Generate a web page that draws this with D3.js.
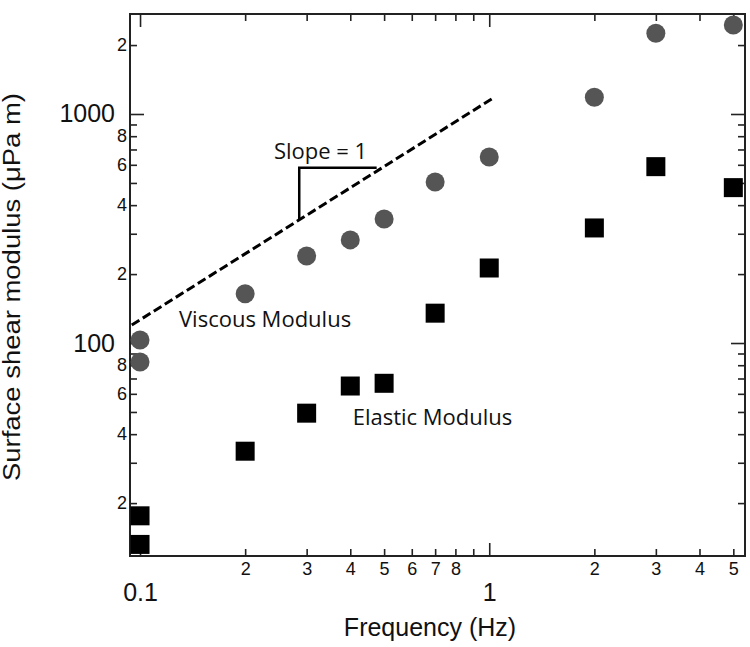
<!DOCTYPE html>
<html>
<head>
<meta charset="utf-8">
<script src="https://cdn.jsdelivr.net/npm/d3@7"></script>
<style>
  html, body { margin: 0; padding: 0; background: #fff; }
  svg { display: block; }
</style>
</head>
<body>
<svg id="chart" width="750" height="647"></svg>
<script>
// ---- data ----
const freqs   = [0.1, 0.1, 0.2, 0.3, 0.4, 0.5, 0.7, 1, 2, 3, 5];
const viscous = [103, 82.6, 164, 240, 282, 348, 505, 649, 1183, 2251, 2447];
const elastic = [17.6, 13.2, 33.7, 49.4, 64.9, 66.7, 135, 212.6, 318, 589, 477];

// slope guide line and triangle
const slopeLineX = [0.0947, 1.023];
const slopeLineY = [119.8, 1171];
const triX = [0.2857, 0.2857, 0.476];
const triY = [345, 583, 583];

// tick values and labels
const xMajorTicks = [0.1, 1];
const xMajorLabels = ["0.1", "1"];
const xMinorTicks = [0.2, 0.3, 0.4, 0.5, 0.6, 0.7, 0.8, 0.9, 2, 3, 4, 5];
const xMinorLabels = ["2", "3", "4", "5", "6", "7", "8", "", "2", "3", "4", "5"];
const yMajorTicks = [100, 1000];
const yMajorLabels = ["100", "1000"];
const yMinorTicks = [20, 30, 40, 50, 60, 70, 80, 90, 200, 300, 400, 500, 600, 700, 800, 900, 2000];
const yMinorLabels = ["2", "", "4", "", "6", "", "8", "", "2", "", "4", "", "6", "", "8", "", "2"];

// annotations (data coordinates of text start / baseline)
const annotations = [
  { text: "Slope = 1", x: 0.2418, y: 636 },
  { text: "Viscous Modulus", x: 0.1293, y: 117.8 },
  { text: "Elastic Modulus", x: 0.4064, y: 43.9 }
];

// ---- layout ----
const plotLeft = 130, plotRight = 745, plotTop = 14, plotBottom = 556;
const svg = d3.select("#chart");

const x = d3.scaleLog().domain([0.0936, 5.40]).range([plotLeft, plotRight]);
const y = d3.scaleLog().domain([11.75, 2733]).range([plotBottom, plotTop]);

const axisColor = "#222";
const fontAxis = "Liberation Sans, Arial, sans-serif";

function styleAxis(g) {
  g.select(".domain").remove();
  g.selectAll(".tick line").attr("stroke", axisColor).attr("stroke-width", 1.6);
  g.selectAll(".tick text").attr("fill", "#111").attr("font-family", fontAxis);
}

// bottom minor
svg.append("g").attr("transform", `translate(0,${plotBottom})`)
  .call(d3.axisBottom(x).tickValues(xMinorTicks).tickSize(-7).tickPadding(6)
    .tickFormat((d, i) => xMinorLabels[i]))
  .call(styleAxis)
  .call(g => g.selectAll("text").attr("font-size", 18));
// bottom major
svg.append("g").attr("transform", `translate(0,${plotBottom})`)
  .call(d3.axisBottom(x).tickValues(xMajorTicks).tickSize(-13).tickPadding(27)
    .tickFormat((d, i) => xMajorLabels[i]))
  .call(styleAxis)
  .call(g => g.selectAll("text").attr("font-size", 25));
// top mirrors
svg.append("g").attr("transform", `translate(0,${plotTop})`)
  .call(d3.axisTop(x).tickValues(xMinorTicks).tickSize(-7).tickFormat(""))
  .call(styleAxis);
svg.append("g").attr("transform", `translate(0,${plotTop})`)
  .call(d3.axisTop(x).tickValues(xMajorTicks).tickSize(-13).tickFormat(""))
  .call(styleAxis);

// left minor
svg.append("g").attr("transform", `translate(${plotLeft},0)`)
  .call(d3.axisLeft(y).tickValues(yMinorTicks).tickSize(-7).tickPadding(3)
    .tickFormat((d, i) => yMinorLabels[i]))
  .call(styleAxis)
  .call(g => g.selectAll("text").attr("font-size", 18));
// left major
svg.append("g").attr("transform", `translate(${plotLeft},0)`)
  .call(d3.axisLeft(y).tickValues(yMajorTicks).tickSize(-14).tickPadding(15)
    .tickFormat((d, i) => yMajorLabels[i]))
  .call(styleAxis)
  .call(g => g.selectAll("text").attr("font-size", 25));
// right mirrors
svg.append("g").attr("transform", `translate(${plotRight},0)`)
  .call(d3.axisRight(y).tickValues(yMinorTicks).tickSize(-7).tickFormat(""))
  .call(styleAxis);
svg.append("g").attr("transform", `translate(${plotRight},0)`)
  .call(d3.axisRight(y).tickValues(yMajorTicks).tickSize(-14).tickFormat(""))
  .call(styleAxis);

// frame
svg.append("rect")
  .attr("x", plotLeft).attr("y", plotTop)
  .attr("width", plotRight - plotLeft).attr("height", plotBottom - plotTop)
  .attr("fill", "none").attr("stroke", axisColor).attr("stroke-width", 2);

// slope dashed line
svg.append("line")
  .attr("x1", x(slopeLineX[0])).attr("y1", y(slopeLineY[0]))
  .attr("x2", x(slopeLineX[1])).attr("y2", y(slopeLineY[1]))
  .attr("stroke", "#000").attr("stroke-width", 3)
  .attr("stroke-dasharray", "9,4");

// slope triangle
svg.append("path")
  .attr("d", d3.line().x(d => x(d[0])).y(d => y(d[1]))(triX.map((v, i) => [v, triY[i]])))
  .attr("fill", "none").attr("stroke", "#000").attr("stroke-width", 2.5);

// viscous circles
svg.append("g").selectAll("circle")
  .data(freqs.map((f, i) => [f, viscous[i]]))
  .join("circle")
  .attr("cx", d => x(d[0])).attr("cy", d => y(d[1]))
  .attr("r", 9.5).attr("fill", "#555555");

// elastic squares
const sq = 19;
svg.append("g").selectAll("rect")
  .data(freqs.map((f, i) => [f, elastic[i]]))
  .join("rect")
  .attr("x", d => x(d[0]) - sq / 2).attr("y", d => y(d[1]) - sq / 2)
  .attr("width", sq).attr("height", sq).attr("fill", "#000");

// annotations
svg.append("g").selectAll("text")
  .data(annotations)
  .join("text")
  .attr("x", d => x(d.x)).attr("y", d => y(d.y))
  .attr("font-family", "Open Sans, sans-serif")
  .attr("font-size", 22)
  .attr("fill", "#111")
  .text(d => d.text);

// axis titles
svg.append("text")
  .attr("x", 430).attr("y", 636)
  .attr("text-anchor", "middle")
  .attr("font-family", fontAxis).attr("font-size", 25).attr("fill", "#111")
  .text("Frequency (Hz)");

svg.append("text")
  .attr("transform", "translate(20,287) rotate(-90)")
  .attr("text-anchor", "middle")
  .attr("font-family", fontAxis).attr("font-size", 23).attr("fill", "#111")
  .attr("textLength", 388).attr("lengthAdjust", "spacingAndGlyphs")
  .text("Surface shear modulus (μPa m)");
</script>
</body>
</html>
